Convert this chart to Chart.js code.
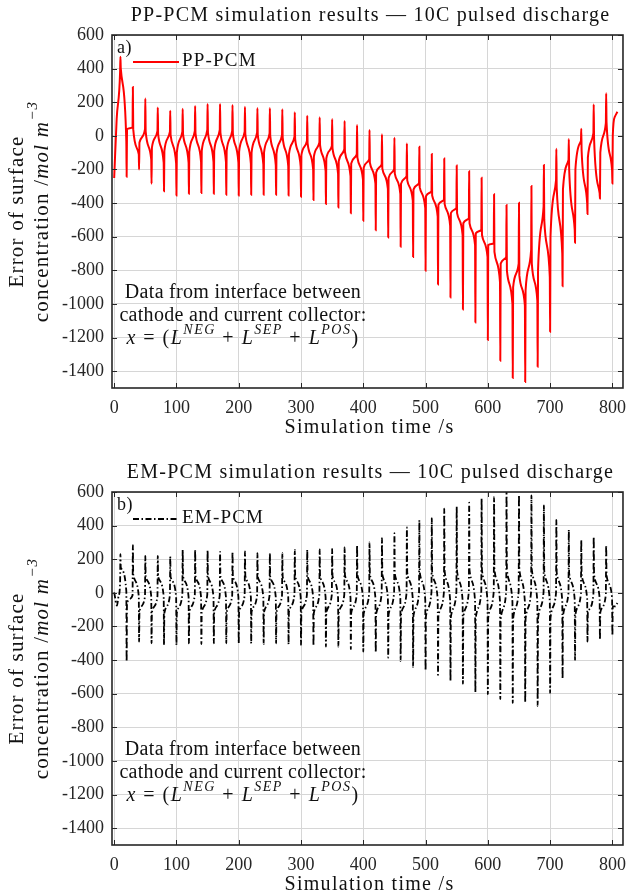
<!DOCTYPE html>
<html>
<head>
<meta charset="utf-8">
<script src="https://cdn.jsdelivr.net/npm/chart.js@4.4.0/dist/chart.umd.min.js"></script>
<style>
  body { margin: 0; background: #fff; }
  .panel { position: absolute; left: 0; width: 635px; }
  #topPanel { top: 0; height: 457px; }
  #bottomPanel { top: 457px; height: 439px; }
</style>
</head>
<body>
<div class="panel" id="topPanel"><canvas id="ppChart" width="635" height="457"></canvas></div>
<div class="panel" id="bottomPanel"><canvas id="emChart" width="635" height="439"></canvas></div>
<script>
// axis ticks
const xTicks = [0, 100, 200, 300, 400, 500, 600, 700, 800]
const yTicks = [-1400, -1200, -1000, -800, -600, -400, -200, 0, 200, 400, 600]

// pulse switching times (s): spike up, then dip 10 s later
const pulseTimes = [10, 30, 50, 70, 90, 110, 130, 150, 170, 190, 210, 230, 250, 270, 290, 310, 330, 350, 370, 390,
  410, 430, 450, 470, 490, 510, 530, 550, 570, 590, 610, 630, 650, 670, 690, 710, 730, 750, 770, 790]
const dipTimes = [20, 40, 60, 80, 100, 120, 140, 160, 180, 200, 220, 240, 260, 280, 300, 320, 340, 360, 380, 400,
  420, 440, 460, 480, 500, 520, 540, 560, 580, 600, 620, 640, 660, 680, 700, 720, 740, 760, 780, 800]

// PP-PCM
const ppLeadT = [0, 4]
const ppLeadV = [-251, 100]
const ppPeak = [471, 290, 222, 169, 150, 161, 178, 190, 190, 184, 173, 165, 165, 159, 141, 120, 110, 100, 89, 64,
  35, 9, -11, -45, -65, -108, -134, -176, -210, -249, -348, -412, -398, -299, -174, -77, -19, 42, 187, 253]
const ppDip = [-243, -200, -285, -330, -355, -345, -340, -345, -350, -355, -350, -350, -350, -355, -362, -382, -406, -426, -461, -505,
  -561, -604, -660, -720, -803, -885, -961, -1033, -1110, -1215, -1338, -1440, -1464, -1374, -1166, -894, -636, -465, -372, -283]
const ppHiPre = [380, 50, 40, 30, 25, 25, 30, 35, 35, 30, 25, 20, 15, 5, -5, -30, -40, -60, -80, -110,
  -140, -170, -200, -240, -280, -330, -380, -430, -490, -560, -640, -720, -760, -680, -420, -263, -144, -30, 16, 76]
const ppHiPost = [400, 40, 25, 10, 5, 10, 15, 20, 20, 15, 10, 5, 0, -10, -20, -45, -55, -75, -95, -130,
  -160, -195, -225, -265, -305, -355, -405, -460, -520, -590, -690, -800, -830, -760, -500, -310, -200, -90, -20, 80]
const ppLoPre = [-35, -110, -140, -160, -165, -160, -155, -155, -155, -160, -165, -170, -175, -180, -185, -200, -210, -225, -240, -260,
  -285, -315, -345, -385, -430, -480, -535, -590, -650, -720, -870, -1000, -1010, -980, -840, -700, -560, -400, -340, -204]
const ppLoPost = [40, -40, -70, -90, -100, -95, -90, -90, -90, -95, -100, -100, -105, -110, -115, -125, -135, -150, -165, -190,
  -220, -250, -285, -320, -360, -410, -460, -520, -580, -650, -760, -900, -920, -800, -600, -320, -200, -130, -100, 0]
const ppTailT = [804, 808]
const ppTailV = [114, 143]

// EM-PCM
const emLeadT = [0, 4.5, 7]
const emLeadV = [3, -76, -20]
const emPeak = [230, 284, 220, 220, 216, 256, 256, 254, 244, 244, 246, 236, 238, 236, 256, 256, 258, 262, 270, 282,
  300, 325, 355, 389, 432, 444, 501, 513, 537, 561, 570, 615, 582, 580, 521, 434, 375, 313, 333, 284]
const emDip = [-409, -290, -300, -310, -310, -300, -305, -300, -300, -300, -300, -305, -300, -305, -310, -315, -320, -320, -335, -350,
  -355, -385, -405, -442, -462, -488, -525, -541, -591, -603, -632, -655, -652, -672, -595, -510, -400, -290, -280, -255]
const emHiPre = [60, -15, -20, -20, -15, -10, -10, -10, -15, -15, -15, -15, -15, -15, -10, -10, -10, -10, -10, -10,
  -5, -5, 0, 0, 0, 5, 5, 5, 10, 10, 10, 10, 10, 10, 5, 0, 0, -5, -10, -10]
const emHiPost = [150, 110, 95, 95, 95, 100, 100, 100, 100, 100, 100, 95, 95, 95, 100, 100, 100, 100, 105, 105,
  110, 110, 115, 120, 125, 125, 130, 130, 135, 135, 140, 140, 140, 140, 130, 120, 115, 110, 110, 105]
const emLoPre = [10, -20, -20, -20, -25, -25, -25, -25, -25, -25, -25, -25, -25, -25, -25, -25, -25, -25, -30, -30,
  -30, -30, -35, -35, -40, -40, -45, -45, -50, -50, -50, -55, -55, -55, -50, -45, -40, -35, -30, -30]
const emLoPost = [-60, -110, -115, -120, -120, -115, -115, -115, -115, -115, -115, -115, -115, -115, -115, -120, -120, -120, -120, -125,
  -125, -130, -130, -135, -140, -140, -145, -145, -150, -150, -155, -155, -155, -155, -150, -140, -130, -120, -115, -80]
const emTailT = [805, 808]
const emTailV = [-80, -60]

const serif = "'Liberation Serif', 'DejaVu Serif', serif"
const ink = '#262626'

function buildSeries(leadT, leadV, peak, dip, hiPre, hiPost, loPre, loPost, tailT, tailV) {
  const pts = []
  leadT.forEach((t, i) => pts.push({ x: t, y: leadV[i] }))
  pulseTimes.forEach((t, k) => {
    pts.push({ x: t - 0.5, y: hiPre[k] }, { x: t, y: peak[k] }, { x: t + 0.6, y: hiPost[k] })
    const d = dipTimes[k]
    pts.push({ x: d - 0.5, y: loPre[k] }, { x: d, y: dip[k] }, { x: d + 0.6, y: loPost[k] })
  })
  tailT.forEach((t, i) => pts.push({ x: t, y: tailV[i] }))
  return pts
}

// draw a line of text made of plain / italic / superscript pieces
// (the reference face is wider than Liberation Serif, so letters get a little extra spacing)
function drawRich(ctx, segs, x, y, size, align, spacing) {
  const fontFor = (s) => `${s.i ? 'italic ' : ''}${s.sup ? Math.round(size * 0.7) : size}px ${serif}`
  ctx.letterSpacing = `${spacing || 0}px`
  let total = 0
  segs.forEach((s) => {
    ctx.font = fontFor(s)
    s.w = ctx.measureText(s.t).width
    total += s.w
  })
  let cx = align === 'center' ? x - total / 2 : x
  ctx.textAlign = 'left'
  ctx.textBaseline = 'middle'
  segs.forEach((s) => {
    ctx.font = fontFor(s)
    ctx.fillText(s.t, cx, s.sup ? y - size * 0.42 : y)
    cx += s.w
  })
  ctx.letterSpacing = '0px'
}

const panelText = {
  id: 'panelText',
  afterDraw(chart, args, opts) {
    const { ctx, chartArea: a, scales } = chart
    ctx.save()

    // box and inward ticks
    ctx.strokeStyle = ink
    ctx.lineWidth = 1
    xTicks.forEach((v) => {
      const px = Math.round(scales.x.getPixelForValue(v)) + 0.5
      ctx.beginPath()
      ctx.moveTo(px, a.bottom); ctx.lineTo(px, a.bottom - 5)
      ctx.moveTo(px, a.top); ctx.lineTo(px, a.top + 5)
      ctx.stroke()
    })
    yTicks.forEach((v) => {
      const py = Math.round(scales.y.getPixelForValue(v)) + 0.5
      ctx.beginPath()
      ctx.moveTo(a.left, py); ctx.lineTo(a.left + 5, py)
      ctx.moveTo(a.right, py); ctx.lineTo(a.right - 5, py)
      ctx.stroke()
    })
    ctx.lineWidth = 1.6
    ctx.strokeRect(a.left, a.top, a.right - a.left, a.bottom - a.top)

    ctx.fillStyle = '#111'
    const mid = (a.left + a.right) / 2
    // title
    drawRich(ctx, [{ t: opts.title }], mid + 3, 16, 20, 'center', 1.25)
    // x label
    drawRich(ctx, [{ t: 'Simulation time /s' }], mid + 2, 428, 20, 'center', 1.3)
    // y label (two lines, rotated)
    const cy = (a.top + a.bottom) / 2
    ctx.save(); ctx.translate(17, cy); ctx.rotate(-Math.PI / 2)
    drawRich(ctx, [{ t: 'Error of surface' }], 0, 0, 21, 'center', 1.2)
    ctx.restore()
    ctx.save(); ctx.translate(42, cy); ctx.rotate(-Math.PI / 2)
    drawRich(ctx, [{ t: 'concentration /' }, { t: 'mol m', i: true }, { t: '\u22123', i: true, sup: true }], 0, 0, 21, 'center', 1.2)
    ctx.restore()

    // panel letter
    drawRich(ctx, [{ t: opts.letter }], a.left + 5, 48, 18, 'left', 0.5)

    // legend
    ctx.strokeStyle = opts.color
    ctx.lineWidth = opts.width
    ctx.setLineDash(opts.dash)
    ctx.beginPath(); ctx.moveTo(133, 62); ctx.lineTo(179, 62); ctx.stroke()
    ctx.setLineDash([])
    drawRich(ctx, [{ t: opts.label }], 182, 61, 19, 'left', 1.2)

    // annotation
    const ax = 243
    drawRich(ctx, [{ t: 'Data from interface between' }], ax, 293, 20, 'center', 0.3)
    drawRich(ctx, [{ t: 'cathode and current collector:' }], ax, 315.5, 20, 'center', 0.3)
    drawRich(ctx, [
      { t: 'x', i: true }, { t: ' = (' }, { t: 'L', i: true }, { t: 'NEG', i: true, sup: true },
      { t: ' + ' }, { t: 'L', i: true }, { t: 'SEP', i: true, sup: true },
      { t: ' + ' }, { t: 'L', i: true }, { t: 'POS', i: true, sup: true }, { t: ')' }
    ], ax, 339, 20, 'center', 1.5)
    ctx.restore()
  }
}

function makeChart(id, data, opts, xAxisHeight) {
  return new Chart(document.getElementById(id), {
    type: 'line',
    data: {
      datasets: [{
        data: data,
        borderColor: opts.color,
        borderWidth: opts.width,
        borderDash: opts.dash,
        pointRadius: 0,
        cubicInterpolationMode: 'monotone',
        fill: false,
      }],
    },
    options: {
      responsive: false,
      animation: false,
      devicePixelRatio: 1,
      parsing: false,
      layout: { padding: { top: 35, right: 5, left: 0, bottom: 0 } },
      scales: {
        x: {
          type: 'linear', min: -3.5, max: 817,
          afterBuildTicks: (s) => { s.ticks = xTicks.map((v) => ({ value: v })) },
          afterFit: (s) => { s.height = xAxisHeight },
          grid: { color: '#d6d6d6', drawTicks: false },
          border: { display: false },
          ticks: { padding: 9, color: ink, font: { family: serif, size: 18 }, maxRotation: 0, autoSkip: false, callback: (v) => `${v}` },
        },
        y: {
          type: 'linear', min: -1500, max: 600,
          afterBuildTicks: (s) => { s.ticks = yTicks.map((v) => ({ value: v })) },
          afterFit: (s) => { s.width = 112 },
          grid: { color: '#d6d6d6', drawTicks: false },
          border: { display: false },
          ticks: { padding: 8, color: ink, font: { family: serif, size: 18 }, autoSkip: false, callback: (v) => `${v}` },
        },
      },
      plugins: {
        legend: { display: false },
        tooltip: { enabled: false },
        panelText: opts,
      },
    },
    plugins: [panelText],
  })
}

const ppData = buildSeries(ppLeadT, ppLeadV, ppPeak, ppDip, ppHiPre, ppHiPost, ppLoPre, ppLoPost, ppTailT, ppTailV)
const emData = buildSeries(emLeadT, emLeadV, emPeak, emDip, emHiPre, emHiPost, emLoPre, emLoPost, emTailT, emTailV)

makeChart('ppChart', ppData, {
  title: 'PP-PCM simulation results \u2014 10C pulsed discharge', letter: 'a)', label: 'PP-PCM',
  color: '#ff0000', width: 2, dash: [],
}, 69)

makeChart('emChart', emData, {
  title: 'EM-PCM simulation results \u2014 10C pulsed discharge', letter: 'b)', label: 'EM-PCM',
  color: '#000000', width: 1.8, dash: [6, 2.5, 1.5, 2.5],
}, 51)
</script>
</body>
</html>
